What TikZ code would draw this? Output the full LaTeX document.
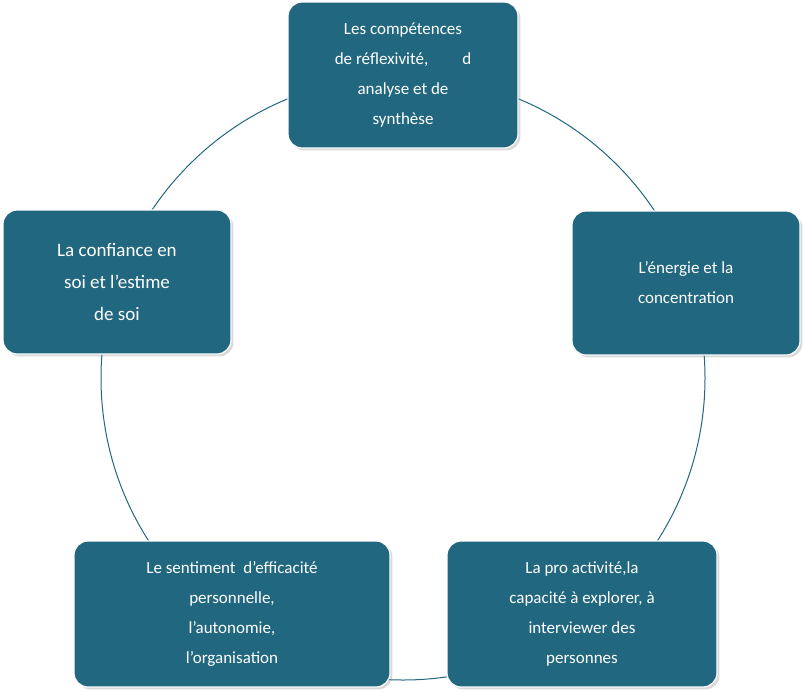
\documentclass[tikz,border=0pt]{standalone}
\usepackage{fontspec}
\setmainfont{Carlito}
\usetikzlibrary{shadows}
\definecolor{tealbox}{HTML}{21677F}
\tikzset{skill/.style={rectangle, fill=tealbox, draw=white, line width=1.2pt, rounded corners=14pt, text=white, align=center, font=\fontsize{17}{30}\selectfont, drop shadow={opacity=0.3}}}
\begin{document}
\begin{tikzpicture}[x=1pt,y=-1pt]
\useasboundingbox (0,0) rectangle (803,691);
%circle
\draw[tealbox, line width=1pt] (403,378) circle (302);
%boxes
\node[skill, minimum width=230, minimum height=146] (comp) at (403,75){Les compétences\\de réflexivité,\hspace{2em}d\\analyse et de\\synthèse};
\node[skill, minimum width=228, minimum height=144, font=\fontsize{19}{32}\selectfont] (conf) at (117,282){La confiance en\\soi et l’estime\\de soi};
\node[skill, minimum width=228, minimum height=144] (ener) at (686,283){L’énergie et la\\concentration};
\node[skill, minimum width=316, minimum height=146] (sent) at (232,614){Le sentiment \ d’efficacité\\personnelle,\\l’autonomie,\\l’organisation};
\node[skill, minimum width=270, minimum height=146] (pro) at (582,614){La pro activité,la\\capacité à explorer, à\\interviewer des\\personnes};
\end{tikzpicture}
\end{document}
